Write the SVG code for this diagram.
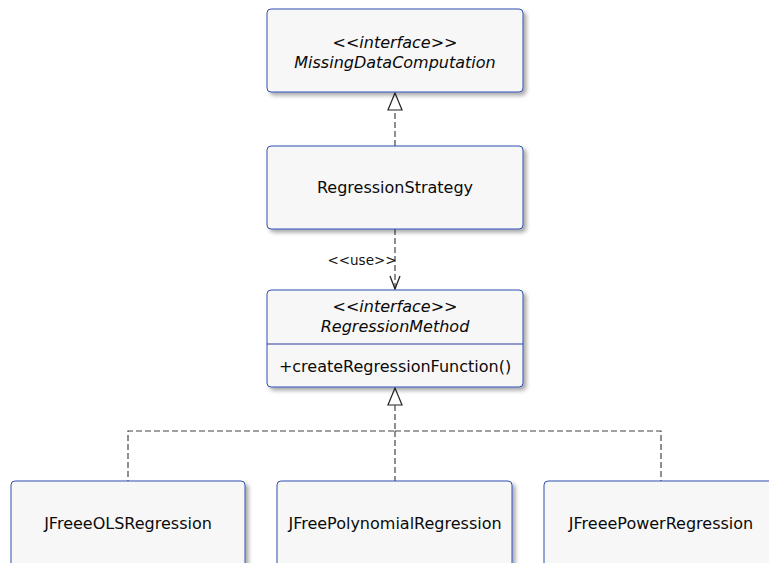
<svg xmlns="http://www.w3.org/2000/svg" width="769" height="563" viewBox="0 0 769 563">
  <style>
    .box { fill: #f7f7f7; stroke: #3350b5; stroke-width: 1; }
    .t { font-family: "DejaVu Sans", "Liberation Sans", sans-serif; font-size: 16px; fill: #0a0a0a; text-anchor: middle; }
    .it { font-style: italic; }
    .lbl { font-family: "DejaVu Sans", "Liberation Sans", sans-serif; font-size: 13.5px; fill: #111; text-anchor: middle; }
    .dash { fill: none; stroke: #444; stroke-width: 1.2; stroke-dasharray: 6 3; }
    .head { fill: #fff; stroke: #222; stroke-width: 1.2; }
    .open { fill: none; stroke: #222; stroke-width: 1.3; }
  </style>
  <defs>
    <filter id="shadow" x="-5%" y="-5%" width="115%" height="125%">
      <feGaussianBlur in="SourceAlpha" stdDeviation="2"/>
      <feOffset dx="3" dy="3" result="b"/>
      <feComponentTransfer><feFuncA type="linear" slope="0.35"/></feComponentTransfer>
      <feMerge><feMergeNode/><feMergeNode in="SourceGraphic"/></feMerge>
    </filter>
  </defs>

  <g id="connectors">
    <!-- realization: RegressionStrategy to MissingDataComputation -->
    <line class="dash" x1="395" y1="146" x2="395" y2="110"/>
    <polygon class="head" points="395,93 388,110 402,110"/>
    <!-- use dependency -->
    <line class="dash" x1="395" y1="229" x2="395" y2="289"/>
    <polyline class="open" points="390,276 395,289 400,276"/>
    <text class="lbl" x="362" y="265">&lt;&lt;use&gt;&gt;</text>
    <!-- realizations of RegressionMethod -->
    <polygon class="head" points="395,388 388,405 402,405"/>
    <polyline class="dash" points="395,405 395,431 128,431 128,481"/>
    <polyline class="dash" points="395,431 395,481"/>
    <polyline class="dash" points="395,431 661,431 661,481"/>
  </g>

  <g id="MissingDataComputation">
    <rect class="box" x="267" y="9" width="256" height="83" rx="4" filter="url(#shadow)"/>
    <text class="t it" x="395" y="48">&lt;&lt;interface&gt;&gt;</text>
    <text class="t it" x="395" y="68">MissingDataComputation</text>
  </g>

  <g id="RegressionStrategy">
    <rect class="box" x="267" y="146" width="256" height="83" rx="4" filter="url(#shadow)"/>
    <text class="t" x="395" y="193">RegressionStrategy</text>
  </g>

  <g id="RegressionMethod">
    <rect class="box" x="267" y="290" width="256" height="97" rx="4" filter="url(#shadow)"/>
    <line x1="267" y1="344" x2="523" y2="344" stroke="#2a3f9a" stroke-width="1"/>
    <text class="t it" x="395" y="312">&lt;&lt;interface&gt;&gt;</text>
    <text class="t it" x="395" y="332">RegressionMethod</text>
    <text class="t" x="395" y="372">+createRegressionFunction()</text>
  </g>

  <g id="JFreeeOLSRegression">
    <rect class="box" x="11" y="481" width="234" height="100" rx="4" filter="url(#shadow)"/>
    <text class="t" x="128" y="529">JFreeeOLSRegression</text>
  </g>

  <g id="JFreePolynomialRegression">
    <rect class="box" x="277" y="481" width="235" height="100" rx="4" filter="url(#shadow)"/>
    <text class="t" x="395" y="529">JFreePolynomialRegression</text>
  </g>

  <g id="JFreeePowerRegression">
    <rect class="box" x="544" y="481" width="240" height="100" rx="4" filter="url(#shadow)"/>
    <text class="t" x="661" y="529">JFreeePowerRegression</text>
  </g>
</svg>
